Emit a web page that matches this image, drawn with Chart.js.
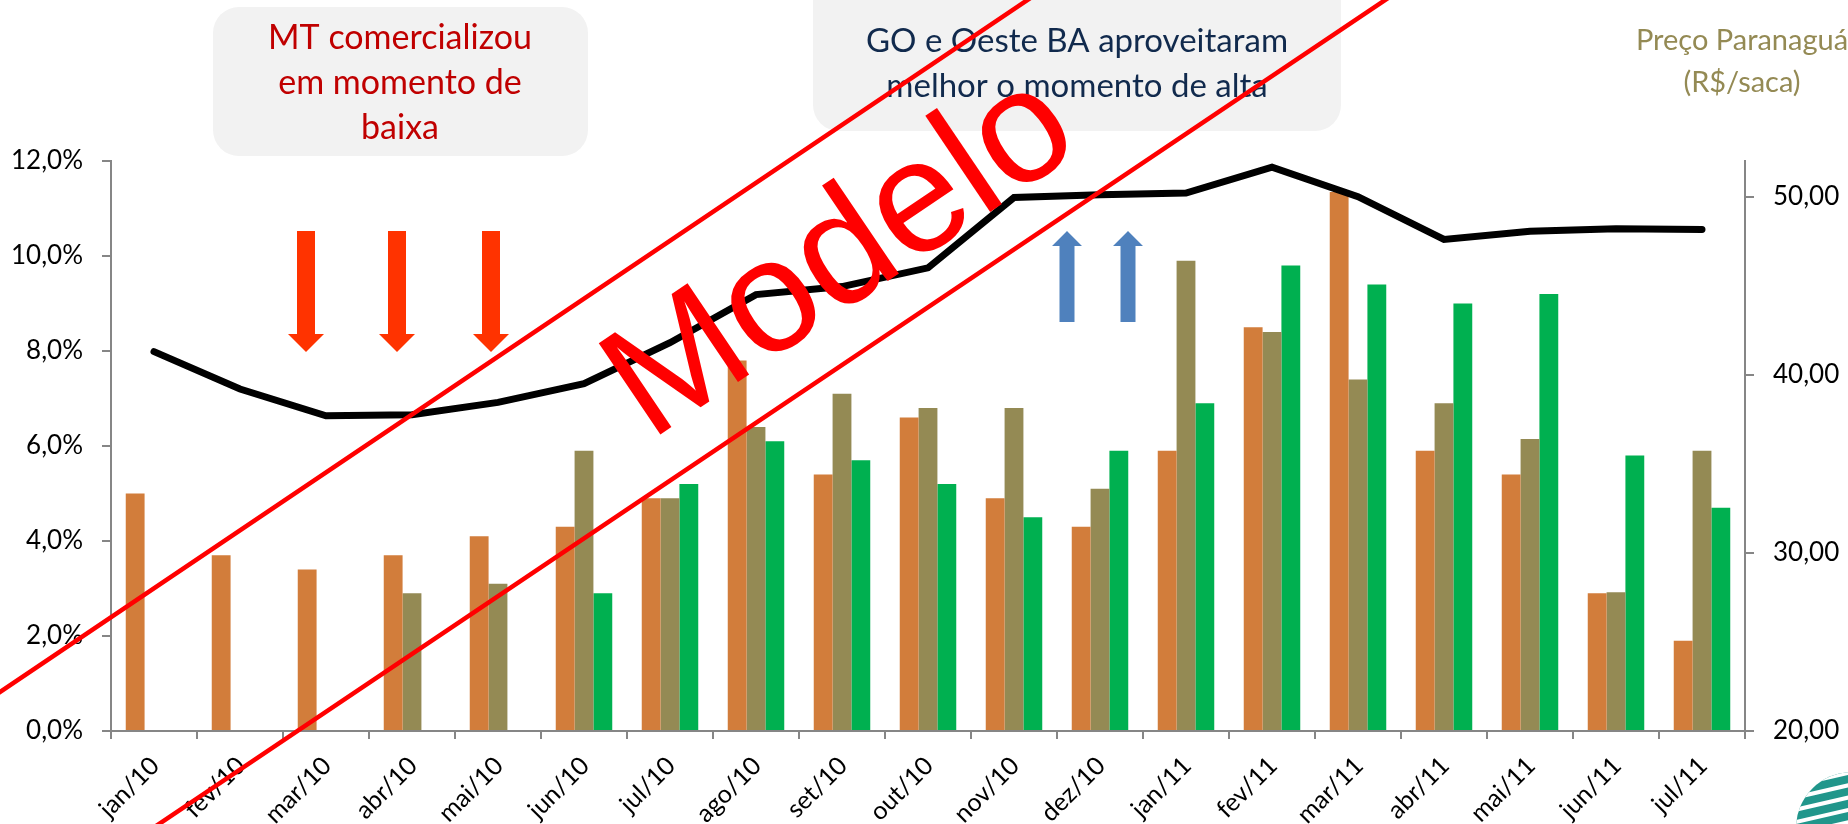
<!DOCTYPE html>
<html>
<head>
<meta charset="utf-8">
<script src="https://cdn.jsdelivr.net/npm/chart.js@4.4.0/dist/chart.umd.min.js"></script>
<style>
  body { margin: 0; background: #fff; }
  #caja { width: 1848px; height: 824px; position: relative; }
</style>
</head>
<body>
<div id="caja"><canvas id="grafico"></canvas></div>
<script>
// Datos
const meses = ['jan/10','fev/10','mar/10','abr/10','mai/10','jun/10','jul/10','ago/10','set/10','out/10',
               'nov/10','dez/10','jan/11','fev/11','mar/11','abr/11','mai/11','jun/11','jul/11'];
const mt    = [5.0, 3.7, 3.4, 3.7, 4.1, 4.3, 4.9, 7.8, 5.4, 6.6, 4.9, 4.3, 5.9, 8.5, 11.35, 5.9, 5.4, 2.9, 1.9];
const go    = [null, null, null, 2.9, 3.1, 5.9, 4.9, 6.4, 7.1, 6.8, 6.8, 5.1, 9.9, 8.4, 7.4, 6.9, 6.15, 2.92, 5.9];
const oeste = [null, null, null, null, null, 2.9, 5.2, 6.1, 5.7, 5.2, 4.5, 5.9, 6.9, 9.8, 9.4, 9.0, 9.2, 5.8, 4.7];
const preco = [41.3, 39.2, 37.7, 37.75, 38.45, 39.5, 41.8, 44.5, 44.95, 46.0, 49.95, 50.1, 50.2, 51.65, 50.0, 47.6, 48.05, 48.2, 48.15];

const fonte = 'Lato';
const cinza = '#868686';

// Para dibujar las flechas
function flechaAbajo(ctx, x, yTop, yHead, yTip, ancho, cabeza, color) {
  ctx.fillStyle = color;
  ctx.beginPath();
  ctx.moveTo(x - ancho / 2, yTop);
  ctx.lineTo(x + ancho / 2, yTop);
  ctx.lineTo(x + ancho / 2, yHead);
  ctx.lineTo(x + cabeza / 2, yHead);
  ctx.lineTo(x, yTip);
  ctx.lineTo(x - cabeza / 2, yHead);
  ctx.lineTo(x - ancho / 2, yHead);
  ctx.closePath();
  ctx.fill();
}

function caixa(ctx, x, y, w, h, r) {
  ctx.fillStyle = '#f2f2f2';
  ctx.beginPath();
  ctx.roundRect(x, y, w, h, r);
  ctx.fill();
}

function textos(ctx, linhas, x, ys, cor, tam) {
  ctx.fillStyle = cor;
  ctx.font = tam + 'px ' + fonte;
  ctx.textAlign = 'center';
  ctx.textBaseline = 'alphabetic';
  for (let i = 0; i < linhas.length; i++) {
    ctx.fillText(linhas[i], x, ys[i]);
  }
}

// Cajas, flechas y titulo del eje derecho (detras de las barras)
const fondo = {
  id: 'fondo',
  beforeDatasetsDraw(chart) {
    const ctx = chart.ctx;
    ctx.save();
    caixa(ctx, 213, 7, 375, 149, 26);
    caixa(ctx, 813, -40, 528, 171, 26);
    textos(ctx, ['MT comercializou', 'em momento de', 'baixa'], 400, [49, 94, 139], '#c00000', 34);
    textos(ctx, ['GO e Oeste BA aproveitaram', 'melhor o momento de alta'], 1077, [52, 97], '#112a4d', 33);
    textos(ctx, ['Preço Paranaguá', '(R$/saca)'], 1742, [50, 92], '#948a54', 29);

    flechaAbajo(ctx, 306, 231, 334, 352, 18, 36, '#ff3300');
    flechaAbajo(ctx, 397, 231, 334, 352, 18, 36, '#ff3300');
    flechaAbajo(ctx, 491, 231, 334, 352, 18, 36, '#ff3300');
    // flechas para arriba
    flechaAbajo(ctx, 1067, 322, 246, 231, 15, 30, '#4f81bd');
    flechaAbajo(ctx, 1128, 322, 246, 231, 15, 30, '#4f81bd');
    ctx.restore();
  }
};

// Marca de agua y logo (encima de todo)
const marca = {
  id: 'marca',
  afterDraw(chart) {
    const ctx = chart.ctx;
    ctx.save();
    ctx.strokeStyle = '#ff0000';
    ctx.lineWidth = 4.5;
    ctx.beginPath();
    ctx.moveTo(-20, 692 + 20 * 0.6735);
    ctx.lineTo(1040, 692 - 1040 * 0.6735);
    ctx.moveTo(140, 824 + 19 * 0.672);
    ctx.lineTo(1400, 824 - 1241 * 0.672);
    ctx.stroke();

    ctx.translate(867, 295);
    ctx.rotate(-34 * Math.PI / 180);
    ctx.font = '160px "Liberation Sans"';
    ctx.textAlign = 'center';
    ctx.textBaseline = 'alphabetic';
    ctx.fillStyle = '#ff0000';
    ctx.fillText('Modelo', 0, 0);
    ctx.restore();

    // logo cortado en la esquina
    ctx.save();
    ctx.beginPath();
    ctx.arc(1852, 828, 56, 0, Math.PI * 2);
    ctx.clip();
    ctx.fillStyle = '#21968b';
    ctx.fillRect(1790, 770, 70, 70);
    ctx.translate(1820, 800);
    ctx.rotate(-13 * Math.PI / 180);
    ctx.strokeStyle = '#fff';
    ctx.lineWidth = 4;
    for (let k = -5; k <= 5; k++) {
      ctx.beginPath();
      ctx.moveTo(-80, k * 12 + 4);
      ctx.lineTo(80, k * 12 + 4);
      ctx.stroke();
    }
    ctx.restore();
  }
};

let grafico = new Chart(document.getElementById('grafico'), {
  data: {
    labels: meses,
    datasets: [
      {
        type: 'line',
        label: 'Preço Paranaguá',
        data: preco,
        yAxisID: 'y1',
        borderColor: '#000000',
        borderWidth: 7,
        borderCapStyle: 'round',
        pointRadius: 0,
        tension: 0,
        order: 0
      },
      { type: 'bar', label: 'MT', data: mt, backgroundColor: '#d27d3b', order: 1 },
      { type: 'bar', label: 'GO', data: go, backgroundColor: '#948a54', order: 1 },
      { type: 'bar', label: 'Oeste BA', data: oeste, backgroundColor: '#00b050', order: 1 }
    ]
  },
  options: {
    responsive: true,
    maintainAspectRatio: false,
    animation: false,
    datasets: {
      bar: { barPercentage: 1.0, categoryPercentage: 0.657 }
    },
    layout: { padding: { top: 161, left: 0, right: 0, bottom: 0 } },
    plugins: {
      legend: { display: false },
      tooltip: { enabled: false }
    },
    scales: {
      x: {
        offset: true,
        grid: { offset: true, drawOnChartArea: false, drawTicks: true, tickLength: 8, color: cinza, lineWidth: 2 },
        border: { color: cinza, width: 2 },
        ticks: {
          color: '#000',
          font: { family: fonte, size: 25 },
          minRotation: 45,
          maxRotation: 45,
          padding: 12,
          labelOffset: 1,
          autoSkip: false
        },
        afterFit: s => { s.height = 93; }
      },
      y: {
        position: 'left',
        min: 0,
        max: 12,
        grid: { drawOnChartArea: false, tickLength: 9, color: cinza, lineWidth: 2 },
        border: { color: cinza, width: 2 },
        ticks: {
          stepSize: 2,
          color: '#000',
          padding: 19,
          font: { family: fonte, size: 26 },
          callback: v => v.toFixed(1).replace('.', ',') + '%'
        },
        afterFit: s => { s.width = 111; }
      },
      y1: {
        position: 'right',
        min: 20,
        max: 52,
        grid: { drawOnChartArea: false, tickLength: 9, color: cinza, lineWidth: 2 },
        border: { color: cinza, width: 2 },
        ticks: {
          stepSize: 10,
          color: '#000',
          padding: 19,
          font: { family: fonte, size: 26 },
          callback: v => v.toFixed(2).replace('.', ',')
        },
        afterBuildTicks: s => { s.ticks = s.ticks.filter(t => t.value % 10 === 0); },
        afterFit: s => { s.width = 103; }
      }
    }
  },
  plugins: [fondo, marca]
});
</script>
</body>
</html>
